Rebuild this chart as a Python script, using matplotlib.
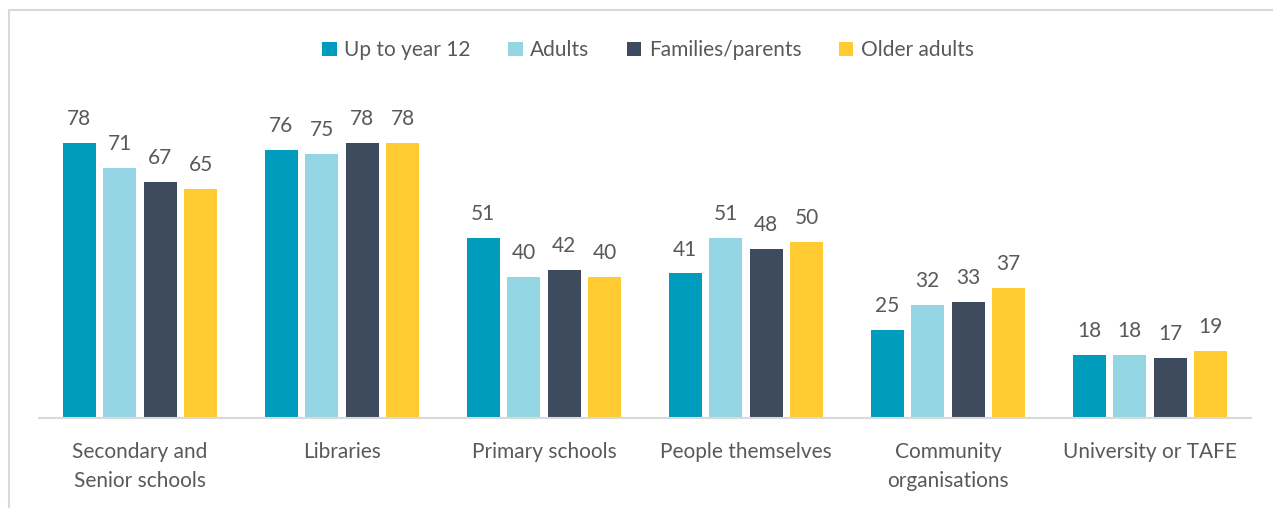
import numpy as np
import matplotlib.pyplot as plt
from matplotlib.patches import Rectangle

categories = ["Secondary and\nSenior schools", "Libraries", "Primary schools",
              "People themselves", "Community\norganisations", "University or TAFE"]
series_names = ["Up to year 12", "Adults", "Families/parents", "Older adults"]
up_to_year_12 = [78, 76, 51, 41, 25, 18]
adults = [71, 75, 40, 51, 32, 18]
families_parents = [67, 78, 42, 48, 33, 17]
older_adults = [65, 78, 40, 50, 37, 19]
colors = ["#009CBD", "#93D5E3", "#3E4A5E", "#FFCB31"]

plt.rcParams["font.family"] = ["Lato", "DejaVu Sans"]
text_color = "#595959"
fs = 15

fig = plt.figure(figsize=(12.73, 5.08), dpi=100)

# light frame round the chart area, open to the right and bottom
fig.patches.append(Rectangle((9 / 1273, -0.1), 1.2, 1 - 10 / 508 + 0.1,
                             transform=fig.transFigure, fill=False,
                             edgecolor="#D9D9D9", linewidth=1.5))

ax = fig.add_axes([0.0306, 0.177, 0.952, 0.625])

x = np.arange(len(categories))
pitch = 0.2
width = 0.163
all_values = [up_to_year_12, adults, families_parents, older_adults]
for i, (name, vals) in enumerate(zip(series_names, all_values)):
    offs = (i - 1.5) * pitch
    bars = ax.bar(x + offs, vals, width, color=colors[i], label=name)
    ax.bar_label(bars, labels=[str(v) for v in vals], padding=10,
                 fontsize=fs, color=text_color)

ax.set_xlim(-0.5, len(categories) - 0.5)
ax.set_ylim(0, 90)
ax.set_yticks([])
ax.set_xticks(x)
ax.set_xticklabels(categories, fontsize=fs, color=text_color, linespacing=1.6)
ax.tick_params(axis="x", length=0, pad=17)
for side in ["top", "right", "left"]:
    ax.spines[side].set_visible(False)
ax.spines["bottom"].set_color("#D9D9D9")
ax.spines["bottom"].set_linewidth(1.5)

leg = fig.legend(loc="center", bbox_to_anchor=(0.509, 0.901), ncol=4,
                 frameon=False, fontsize=fs, handlelength=0.7,
                 handleheight=0.7, handletextpad=0.35, columnspacing=1.8)
for t in leg.get_texts():
    t.set_color(text_color)

fig.savefig("out.png", dpi=100)
